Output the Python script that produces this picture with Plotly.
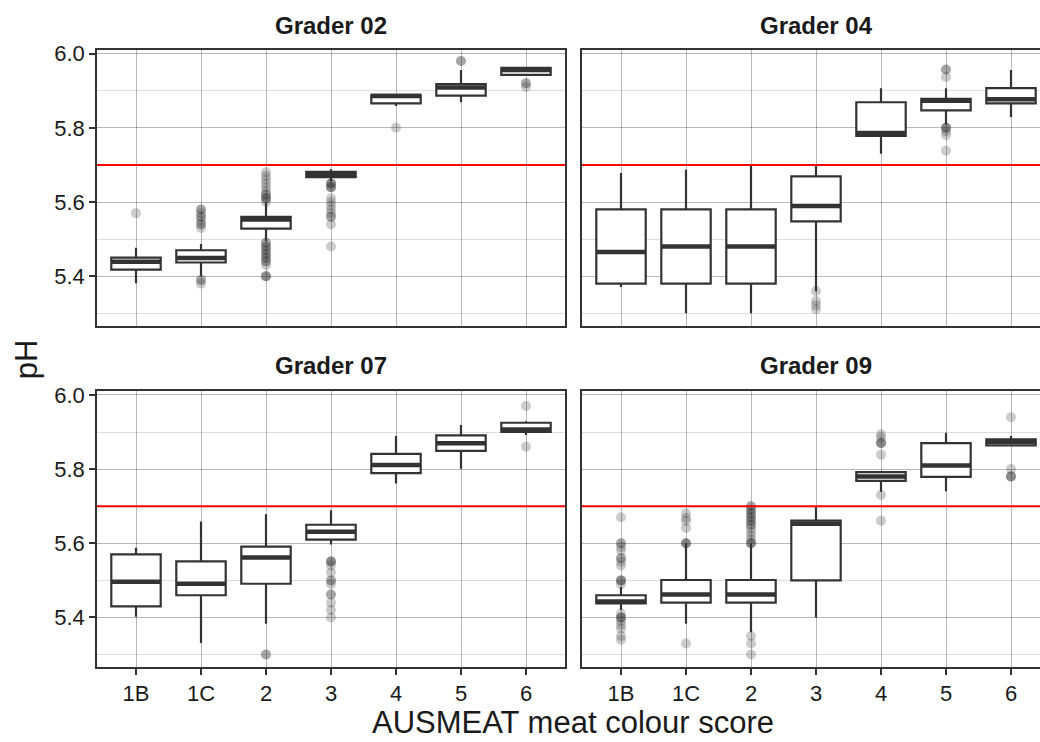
import plotly.graph_objects as go

categories = ["1B", "1C", "2", "3", "4", "5", "6"]
graders = ["Grader 02", "Grader 04", "Grader 07", "Grader 09"]
threshold = 5.7

# Grader 02
g02_q1 = [5.418, 5.437, 5.528, 5.667, 5.866, 5.887, 5.943]
g02_med = [5.439, 5.449, 5.553, 5.674, 5.886, 5.909, 5.956]
g02_q3 = [5.450, 5.470, 5.560, 5.681, 5.889, 5.918, 5.962]
g02_lo = [5.381, 5.400, 5.495, 5.655, 5.859, 5.869, 5.943]
g02_hi = [5.477, 5.487, 5.598, 5.688, 5.889, 5.956, 5.962]
g02_out = [
    [5.57],
    [5.58, 5.58, 5.57, 5.56, 5.56, 5.55, 5.54, 5.54, 5.53, 5.39, 5.39, 5.38],
    [5.68, 5.67, 5.66, 5.65, 5.64, 5.63, 5.62, 5.62, 5.61, 5.61, 5.61, 5.60,
     5.49, 5.49, 5.48, 5.48, 5.47, 5.47, 5.46, 5.46, 5.45, 5.45, 5.44, 5.44, 5.43, 5.40, 5.40, 5.40],
    [5.65, 5.65, 5.65, 5.64, 5.64, 5.64, 5.61, 5.60, 5.59, 5.58, 5.57, 5.56, 5.56, 5.54, 5.48],
    [5.80],
    [5.98, 5.98],
    [5.92, 5.92, 5.91],
]

# Grader 04
g04_q1 = [5.380, 5.380, 5.380, 5.548, 5.778, 5.847, 5.866]
g04_med = [5.465, 5.480, 5.480, 5.589, 5.786, 5.873, 5.877]
g04_q3 = [5.580, 5.580, 5.580, 5.669, 5.869, 5.878, 5.907]
g04_lo = [5.371, 5.300, 5.300, 5.359, 5.730, 5.809, 5.829]
g04_hi = [5.678, 5.687, 5.697, 5.697, 5.907, 5.907, 5.956]
g04_out = [
    [], [], [],
    [5.36, 5.333, 5.322, 5.311],
    [],
    [5.957, 5.957, 5.937, 5.80, 5.80, 5.80, 5.79, 5.78, 5.738],
    [],
]

# Grader 07
g07_q1 = [5.430, 5.460, 5.491, 5.610, 5.789, 5.849, 5.900]
g07_med = [5.496, 5.491, 5.562, 5.631, 5.811, 5.870, 5.907]
g07_q3 = [5.570, 5.551, 5.591, 5.650, 5.841, 5.891, 5.925]
g07_lo = [5.402, 5.331, 5.383, 5.597, 5.761, 5.801, 5.892]
g07_hi = [5.588, 5.659, 5.678, 5.689, 5.889, 5.919, 5.929]
g07_out = [
    [], [],
    [5.30, 5.30],
    [5.551, 5.551, 5.551, 5.54, 5.522, 5.50, 5.50, 5.49, 5.462, 5.462, 5.44, 5.42, 5.40],
    [], [],
    [5.97, 5.86],
]

# Grader 09
g09_q1 = [5.438, 5.440, 5.440, 5.500, 5.768, 5.779, 5.864]
g09_med = [5.443, 5.462, 5.462, 5.653, 5.780, 5.810, 5.874]
g09_q3 = [5.460, 5.501, 5.501, 5.661, 5.792, 5.870, 5.880]
g09_lo = [5.420, 5.383, 5.360, 5.400, 5.739, 5.740, 5.861]
g09_hi = [5.482, 5.600, 5.600, 5.699, 5.792, 5.898, 5.889]
g09_out = [
    [5.67, 5.60, 5.60, 5.59, 5.58, 5.56, 5.56, 5.55, 5.54, 5.50, 5.50, 5.50, 5.49,
     5.41, 5.40, 5.40, 5.40, 5.39, 5.38, 5.37, 5.35, 5.34],
    [5.681, 5.668, 5.66, 5.641, 5.60, 5.60, 5.60, 5.33],
    [5.70, 5.70, 5.69, 5.69, 5.68, 5.68, 5.67, 5.67, 5.66, 5.66, 5.65, 5.65, 5.64, 5.63,
     5.62, 5.61, 5.60, 5.60, 5.60, 5.35, 5.33, 5.30],
    [],
    [5.894, 5.885, 5.872, 5.87, 5.87, 5.839, 5.73, 5.661],
    [],
    [5.94, 5.80, 5.78, 5.78, 5.78],
]

panels = [
    (g02_q1, g02_med, g02_q3, g02_lo, g02_hi, g02_out),
    (g04_q1, g04_med, g04_q3, g04_lo, g04_hi, g04_out),
    (g07_q1, g07_med, g07_q3, g07_lo, g07_hi, g07_out),
    (g09_q1, g09_med, g09_q3, g09_lo, g09_hi, g09_out),
]

W, H = 1040, 742
BOXW = 0.76
LINE = "#333333"
FONT = "Liberation Sans, Arial, sans-serif"

fig = go.Figure()
pos = list(range(len(categories)))

for k, (q1, med, q3, lo, hi, outs) in enumerate(panels):
    xa = "x" if k == 0 else f"x{k+1}"
    ya = "y" if k == 0 else f"y{k+1}"
    # outliers
    ox, oy = [], []
    for i, vals in enumerate(outs):
        for v in vals:
            ox.append(pos[i])
            oy.append(v)
    fig.add_trace(go.Scatter(
        x=ox, y=oy, mode="markers", xaxis=xa, yaxis=ya,
        marker=dict(size=10, color="rgba(51,51,51,0.25)", line=dict(width=0)),
        showlegend=False, hoverinfo="y"))
    fig.add_trace(go.Box(
        x=pos, q1=q1, median=med, q3=q3, lowerfence=lo, upperfence=hi,
        xaxis=xa, yaxis=ya, width=BOXW, whiskerwidth=0,
        fillcolor="white", line=dict(color=LINE, width=2.2),
        boxpoints=False, showlegend=False))
    mx, my = [], []
    for i, m in enumerate(med):
        mx += [pos[i] - BOXW / 2, pos[i] + BOXW / 2, None]
        my += [m, m, None]
    fig.add_trace(go.Scatter(
        x=mx, y=my, mode="lines", xaxis=xa, yaxis=ya,
        line=dict(color=LINE, width=4.5), showlegend=False, hoverinfo="skip"))
    fig.add_shape(type="line", xref=f"{xa} domain", yref=ya,
                  x0=0, x1=1, y0=threshold, y1=threshold,
                  line=dict(color="#ff0000", width=2), layer="above")


def px_x(p):
    return p / W


def px_y(p):
    return 1 - p / H


xdom_left = [px_x(97), px_x(565)]
xdom_right = [px_x(582), 1.0]
ydom_top = [px_y(321), px_y(42)]
ydom_bot = [px_y(666), px_y(387)]
yrange = [5.267, 6.011]

grid_major = "rgba(0,0,0,0.28)"
grid_minor = "rgba(0,0,0,0.13)"


def xaxis(dom, anchor, show_labels, rng):
    return dict(
        domain=dom, anchor=anchor, range=rng, tickmode="array",
        tickvals=pos, ticktext=categories,
        showticklabels=show_labels, ticks="outside" if show_labels else "",
        ticklen=6, tickwidth=1.5, tickcolor=LINE,
        showgrid=True, gridcolor=grid_major, gridwidth=1,
        zeroline=False, showline=True, linecolor=LINE, linewidth=1.5,
        mirror=True, tickfont=dict(size=22, color="#1a1a1a", family=FONT),
    )


def yaxis(dom, anchor, show_labels, mirror):
    return dict(
        domain=dom, anchor=anchor, range=yrange, tickmode="array",
        tickvals=[5.4, 5.6, 5.8, 6.0], ticktext=["5.4", "5.6", "5.8", "6.0"],
        showticklabels=show_labels, ticks="outside" if show_labels else "",
        ticklen=6, tickwidth=1.5, tickcolor=LINE,
        showgrid=True, gridcolor=grid_major, gridwidth=1,
        minor=dict(tickvals=[5.3, 5.5, 5.7, 5.9], showgrid=True,
                   gridcolor=grid_minor, gridwidth=1, ticks=""),
        zeroline=False, showline=True, linecolor=LINE, linewidth=1.5,
        mirror=mirror, tickfont=dict(size=22, color="#1a1a1a", family=FONT),
    )


xr_left = [-0.6, 6.6]
xr_right = [-0.6, -0.6 + 7.2 * (1040 - 582) / (565 - 97)]

fig.update_layout(
    width=W, height=H, margin=dict(l=0, r=0, t=0, b=0),
    paper_bgcolor="white", plot_bgcolor="white",
    font=dict(family=FONT, color="#1a1a1a"),
    xaxis=xaxis(xdom_left, "y", False, xr_left),
    yaxis=yaxis(ydom_top, "x", True, True),
    xaxis2=xaxis(xdom_right, "y2", False, xr_right),
    yaxis2=yaxis(ydom_top, "x2", False, False),
    xaxis3=xaxis(xdom_left, "y3", True, xr_left),
    yaxis3=yaxis(ydom_bot, "x3", True, True),
    xaxis4=xaxis(xdom_right, "y4", True, xr_right),
    yaxis4=yaxis(ydom_bot, "x4", False, False),
)

strip_pos = [((97 + 565) / 2, 18), ((582 + 1050) / 2, 18),
             ((97 + 565) / 2, 361), ((582 + 1050) / 2, 361)]
for name, (sx, sy) in zip(graders, strip_pos):
    fig.add_annotation(text=f"<b>{name}</b>", x=px_x(sx), y=px_y(sy),
                       xref="paper", yref="paper", showarrow=False,
                       xanchor="center", yanchor="middle",
                       font=dict(size=24, color="#1a1a1a", family=FONT))

fig.add_annotation(text="AUSMEAT meat colour score", x=px_x(573), y=px_y(722),
                   xref="paper", yref="paper", showarrow=False,
                   xanchor="center", yanchor="middle",
                   font=dict(size=31, color="#1a1a1a", family=FONT))
fig.add_annotation(text="pH", x=px_x(26), y=px_y(355), textangle=-90,
                   xref="paper", yref="paper", showarrow=False,
                   xanchor="center", yanchor="middle",
                   font=dict(size=31, color="#1a1a1a", family=FONT))

fig.write_html(
    "out.html",
    config={"displayModeBar": False},
    post_script="document.body.style.margin='0';document.body.style.overflow='hidden';",
)
